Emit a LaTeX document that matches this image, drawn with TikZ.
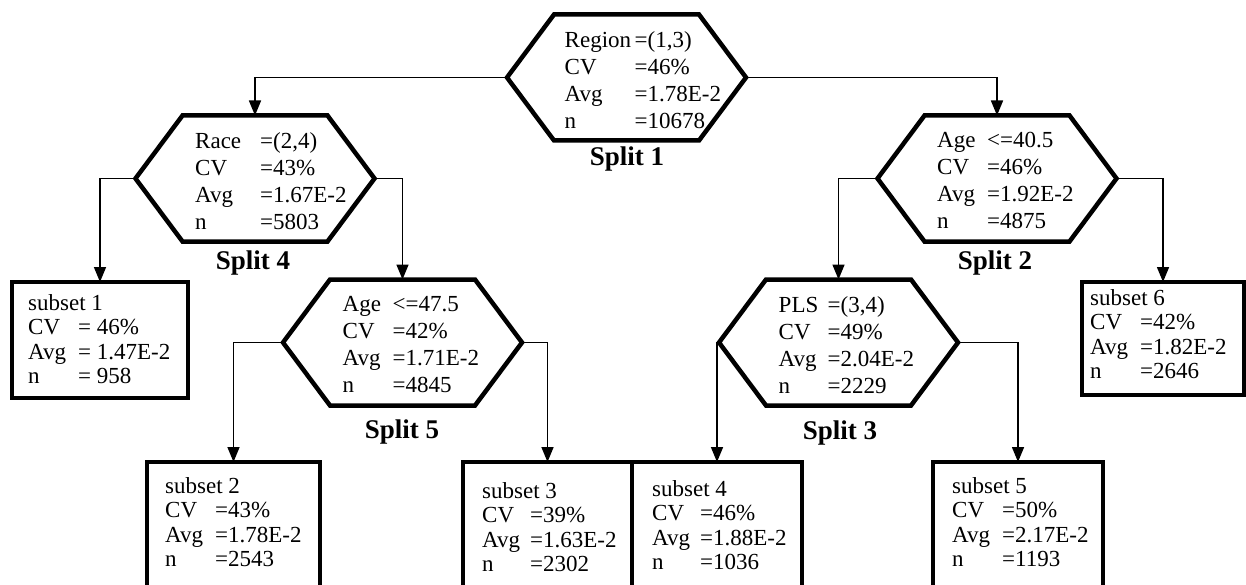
\documentclass[tikz,border=0pt]{standalone}
\usepackage{fontspec}
\setmainfont{Liberation Serif}
\usetikzlibrary{arrows.meta}
% one row of a label/value table: label set in a box of fixed width
\newcommand\kv[3]{\makebox[#1pt][l]{#2}#3}
% outline of a hexagonal split node, traced through the anchors of its frame
\newcommand\drawhex[1]{\draw[hexline] (#1.west) -- ([xshift=47pt]#1.north west) -- ([xshift=-47pt]#1.north east) -- (#1.east) -- ([xshift=-47pt]#1.south east) -- ([xshift=47pt]#1.south west) -- cycle;}
\begin{document}
\begin{tikzpicture}[x=1pt,y=-1pt,
  hexnode/.style={rectangle, minimum width=239pt, minimum height=126pt, inner sep=0pt, outer sep=0pt},
  hexline/.style={line width=4.5pt, line join=miter},
  leaf/.style={draw, line width=4pt, anchor=north west, inner sep=0pt, outer sep=0pt},
  info/.style={font=\fontsize{23}{27}\selectfont, align=left, inner sep=0pt, anchor=north west},
  leafinfo/.style={font=\fontsize{23}{24.5}\selectfont, align=left, inner sep=0pt, anchor=north west},
  splitlbl/.style={font=\fontsize{27}{30}\selectfont\bfseries, inner sep=0pt},
  conn/.style={line width=1.6pt, -{Triangle[width=12pt,length=15pt]}}]
\fill[white] (0,0) rectangle (1246,585);
\useasboundingbox (0,0) rectangle (1246,585);

% split nodes
\node[hexnode] (h1)    at (626.5,77.5) {};
\node[hexnode] (race)  at (255,178.5) {};
\node[hexnode] (age40) at (997,178.5) {};
\node[hexnode] (age47) at (402.5,342.5) {};
\node[hexnode] (pls)   at (838.5,342.5) {};
\drawhex{h1}
\drawhex{race}
\drawhex{age40}
\drawhex{age47}
\drawhex{pls}

\node[info] (h1t) at ([xshift=-62pt,yshift=46pt]h1.center)
  {\kv{70}{Region}{=(1,3)}\\\kv{70}{CV}{=46\%}\\\kv{70}{Avg}{=1.78E-2}\\\kv{70}{n}{=10678}};
\node[info] (racet) at ([xshift=-60pt,yshift=46pt]race.center)
  {\kv{65}{Race}{=(2,4)}\\\kv{65}{CV}{=43\%}\\\kv{65}{Avg}{=1.67E-2}\\\kv{65}{n}{=5803}};
\node[info] (age40t) at ([xshift=-60pt,yshift=46pt]age40.center)
  {\kv{50}{Age}{<=40.5}\\\kv{50}{CV}{=46\%}\\\kv{50}{Avg}{=1.92E-2}\\\kv{50}{n}{=4875}};
\node[info] (age47t) at ([xshift=-60pt,yshift=46pt]age47.center)
  {\kv{50}{Age}{<=47.5}\\\kv{50}{CV}{=42\%}\\\kv{50}{Avg}{=1.71E-2}\\\kv{50}{n}{=4845}};
\node[info] (plst) at ([xshift=-60pt,yshift=46pt]pls.center)
  {\kv{49}{PLS}{=(3,4)}\\\kv{49}{CV}{=49\%}\\\kv{49}{Avg}{=2.04E-2}\\\kv{49}{n}{=2229}};

% split captions
\node[splitlbl] (sp1) at (627,159) {Split 1};
\node[splitlbl] (sp4) at (253,263) {Split 4};
\node[splitlbl] (sp2) at (995,263) {Split 2};
\node[splitlbl] (sp5) at (402,432) {Split 5};
\node[splitlbl] (sp3) at (840,433) {Split 3};

% leaf subsets
\node[leaf, minimum width=176pt, minimum height=116pt] (s1) at (12,282) {};
\node[leaf, minimum width=173pt, minimum height=150pt] (s2) at (147,462) {};
\node[leaf, minimum width=169pt, minimum height=150pt] (s3) at (463,462) {};
\node[leaf, minimum width=170pt, minimum height=150pt] (s4) at (632,462) {};
\node[leaf, minimum width=170pt, minimum height=150pt] (s5) at (933,462) {};
\node[leaf, minimum width=162pt, minimum height=113pt] (s6) at (1082,282) {};

\node[leafinfo] (s1t) at (28,294)
  {subset 1\\\kv{50}{CV}{= 46\%}\\\kv{50}{Avg}{= 1.47E-2}\\\kv{50}{n}{= 958}};
\node[leafinfo] (s2t) at (165,477)
  {subset 2\\\kv{50}{CV}{=43\%}\\\kv{50}{Avg}{=1.78E-2}\\\kv{50}{n}{=2543}};
\node[leafinfo] (s3t) at (482,482)
  {subset 3\\\kv{48}{CV}{=39\%}\\\kv{48}{Avg}{=1.63E-2}\\\kv{48}{n}{=2302}};
\node[leafinfo] (s4t) at (652,480)
  {subset 4\\\kv{48}{CV}{=46\%}\\\kv{48}{Avg}{=1.88E-2}\\\kv{48}{n}{=1036}};
\node[leafinfo] (s5t) at (952,477)
  {subset 5\\\kv{50}{CV}{=50\%}\\\kv{50}{Avg}{=2.17E-2}\\\kv{50}{n}{=1193}};
\node[leafinfo] (s6t) at (1090,289)
  {subset 6\\\kv{50}{CV}{=42\%}\\\kv{50}{Avg}{=1.82E-2}\\\kv{50}{n}{=2646}};

% connectors
\draw[conn] (h1.west) -| (race.north);
\draw[conn] (h1.east) -| (age40.north);
\draw[conn] (race.west) -| (s1.north);
\draw[conn] (race.east) -| (age47.north);
\draw[conn] (age40.west) -| (pls.north);
\draw[conn] (age40.east) -| (s6.north);
\draw[conn] (age47.west) -| (s2.north);
\draw[conn] (age47.east) -| (s3.north);
\draw[conn] (pls.west) -| (s4.north);
\draw[conn] (pls.east) -| (s5.north);
\end{tikzpicture}
\end{document}
